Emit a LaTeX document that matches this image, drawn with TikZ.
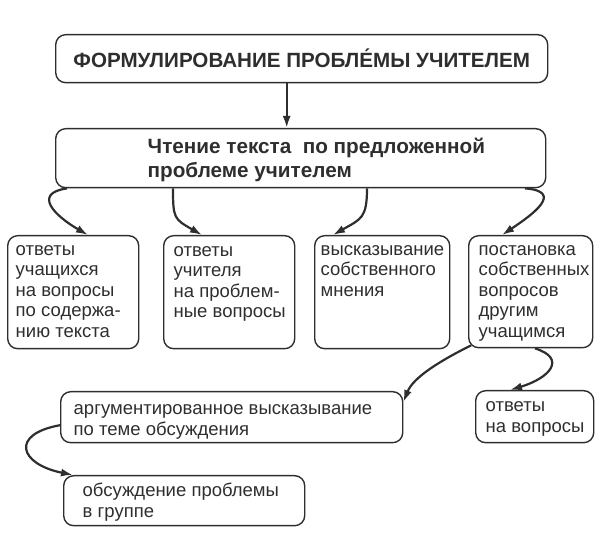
\documentclass[tikz,border=0pt]{standalone}
\usepackage{fontspec}
\setmainfont{Liberation Sans}
\usetikzlibrary{arrows.meta}
\definecolor{ink}{gray}{0.18}
\newcommand{\celltext}[5]{\parbox[t][#2][t]{#1}{\raggedright\leftskip=#3\relax\vspace*{#4}\strut#5}}
\tikzset{
  box/.style={draw=ink, text=ink, rounded corners=10pt, line width=1.4pt, inner sep=0pt, anchor=north west},
  cell/.style={box, font=\fontsize{18.5}{20.5}\selectfont},
  arr/.style={draw=ink, line width=2.2pt, -{Latex[length=12pt,width=8pt]}}
}
\begin{document}
\begin{tikzpicture}[x=1pt,y=1pt]
  \useasboundingbox (0,0) rectangle (615,534);

  % top boxes
  \node[box, minimum width=492pt, minimum height=48pt, font=\bfseries\fontsize{20.6}{24}\selectfont]
    (problem) at (55,500) {ФОРМУЛИРОВАНИЕ ПРОБЛЕ́МЫ УЧИТЕЛЕМ};
  \node[box, font=\bfseries\fontsize{20.7}{24}\selectfont] (reading) at (55,406)
    {\celltext{490pt}{59pt}{92pt}{8.5pt}{Чтение текста~ по предложенной\\проблеме учителем}};

  % second row
  \node[cell] (ans) at (7,299)
    {\celltext{131pt}{113pt}{8pt}{5pt}{ответы\\учащихся\\на вопросы\\по содержа-\\нию текста}};
  \node[cell] (teach) at (163,299)
    {\celltext{131pt}{113pt}{10pt}{6pt}{ответы\\учителя\\на проблем-\\ные вопросы}};
  \node[cell] (opinion) at (314,299)
    {\celltext{135pt}{113pt}{6pt}{5pt}{высказывание\\собственного\\мнения}};
  \node[cell] (quest) at (468,299)
    {\celltext{124pt}{112pt}{10pt}{5pt}{постановка\\собственных\\вопросов\\другим\\учащимся}};

  % lower boxes
  \node[cell] (argue) at (60,143)
    {\celltext{342pt}{51pt}{13pt}{8.5pt}{аргументированное высказывание\\по теме обсуждения}};
  \node[cell] (reply) at (475,144)
    {\celltext{118pt}{52pt}{10pt}{6.5pt}{ответы\\на вопросы}};
  \node[cell] (group) at (63,59)
    {\celltext{241pt}{50pt}{19pt}{6.5pt}{обсуждение проблемы\\в группе}};

  % arrows
  \draw[arr] ([xshift=-15pt]problem.south) -- ([xshift=-15pt]problem.south |- reading.north);
  \draw[arr] ([xshift=12pt]reading.south west) .. controls +(-35,-5) and +(-33,19) .. ([xshift=81pt]ans.north west);
  \draw[arr] ([xshift=118pt]reading.south west) .. controls +(0,-30) and +(-28,16) .. ([xshift=39pt]teach.north west);
  \draw[arr] ([xshift=312pt]reading.south west) .. controls +(0,-30) and +(28,16) .. ([xshift=19pt]opinion.north west);
  \draw[arr] ([xshift=470pt]reading.south west) .. controls +(40,-3) and +(30,20) .. ([xshift=34pt]quest.north west);
  \draw[arr] ([shift={(3pt,3pt)}]quest.south west) .. controls +(-30,-15) and +(10,25) .. ([yshift=-11pt]argue.north east);
  \draw[arr] ([xshift=67pt]quest.south west) .. controls +(32,-10) and +(40,12) .. ([xshift=35pt]reply.north west);
  \draw[arr] ([yshift=-8pt]argue.west) .. controls +(-50,-9) and +(-54,11) .. ([xshift=10pt]group.north west);
\end{tikzpicture}
\end{document}
